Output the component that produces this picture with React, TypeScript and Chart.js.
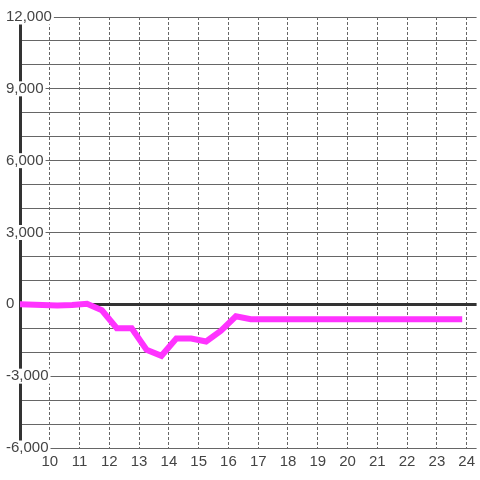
import React, { useEffect, useRef } from 'react';
import { Chart, registerables } from 'chart.js';

Chart.register(...registerables);

// hours of day (x) and cumulative value (y)
const hours = [
  9.0, 9.75, 10.25, 10.75, 11.25, 11.75, 12.25, 12.75, 13.25, 13.75, 14.25, 14.75,
  15.25, 15.75, 16.25, 16.75, 17.25, 17.75, 18.25, 18.75, 19.25, 19.75, 20.25,
  20.75, 21.25, 21.75, 22.25, 22.75, 23.25, 23.75,
];
const values = [
  0, -30, -50, -30, 20, -250, -1000, -1000, -1900, -2150, -1430, -1430,
  -1550, -1100, -500, -620, -620, -620, -620, -620, -620, -620, -620,
  -620, -620, -620, -620, -620, -620, -620,
];
const xTickValues = [10, 11, 12, 13, 14, 15, 16, 17, 18, 19, 20, 21, 22, 23, 24];
const yLabelStep = 3000;
const yGridStep = 1000;
const yMin = -6000;
const yMax = 12000;
const xMin = 9;
const xMax = 9 + 460 / 30;

const FONT = 'Liberation Sans, Arial, sans-serif';

export default function App() {
  const ref = useRef<HTMLCanvasElement>(null);

  useEffect(() => {
    const canvas = ref.current;
    if (!canvas) return;
    const chart = new Chart(canvas, {
      type: 'line',
      data: {
        datasets: [
          {
            data: hours.map((h, i) => ({ x: h, y: values[i] })),
            borderColor: '#ff33ff',
            backgroundColor: '#ff33ff',
            borderWidth: 6,
            pointRadius: 0,
            borderCapStyle: 'square',
            borderJoinStyle: 'miter',
            tension: 0,
            fill: false,
          },
        ],
      },
      options: {
        animation: false,
        responsive: false,
        maintainAspectRatio: false,
        layout: { padding: { left: 4, top: 17, right: 0, bottom: 0 } },
        plugins: { legend: { display: false }, tooltip: { enabled: false } },
        scales: {
          x: {
            type: 'linear',
            min: xMin,
            max: xMax,
            afterBuildTicks: (s: any) => {
              s.ticks = xTickValues.map((v) => ({ value: v }));
            },
            afterFit: (s: any) => {
              s.height = 32;
            },
            grid: { color: '#666', lineWidth: 1, drawTicks: false },
            border: { display: false, dash: [3, 2] },
            ticks: {
              color: '#444',
              font: { family: FONT, size: 15 },
              padding: 5,
              maxRotation: 0,
              autoSkip: false,
              callback: (v: any) => String(v),
            },
          },
          y: {
            type: 'linear',
            min: yMin,
            max: yMax,
            afterFit: (s: any) => {
              s.width = 16;
            },
            grid: {
              color: (ctx: any) => (ctx.tick && ctx.tick.value === 0 ? '#333' : '#666'),
              lineWidth: (ctx: any) => (ctx.tick && ctx.tick.value === 0 ? 3 : 1),
              drawTicks: false,
            },
            border: { display: true, color: '#333', width: 3 },
            ticks: {
              stepSize: yGridStep,
              autoSkip: false,
              mirror: true,
              crossAlign: 'near',
              padding: -14,
              color: '#444',
              font: { family: FONT, size: 15, lineHeight: 1 },
              showLabelBackdrop: true,
              backdropColor: '#ffffff',
              backdropPadding: { left: 1, right: 2, top: 0, bottom: 0 },
              z: 1,
              callback: (v: any) =>
                Number(v) % yLabelStep === 0 ? Number(v).toLocaleString('en-US') : '',
            },
          },
        },
      },
    } as any);
    return () => chart.destroy();
  }, []);

  return (
    <div style={{ position: 'fixed', left: 0, top: 0, width: 480, height: 480, background: '#fff' }}>
      <canvas ref={ref} width={480} height={480} style={{ width: 480, height: 480, display: 'block' }} />
    </div>
  );
}
